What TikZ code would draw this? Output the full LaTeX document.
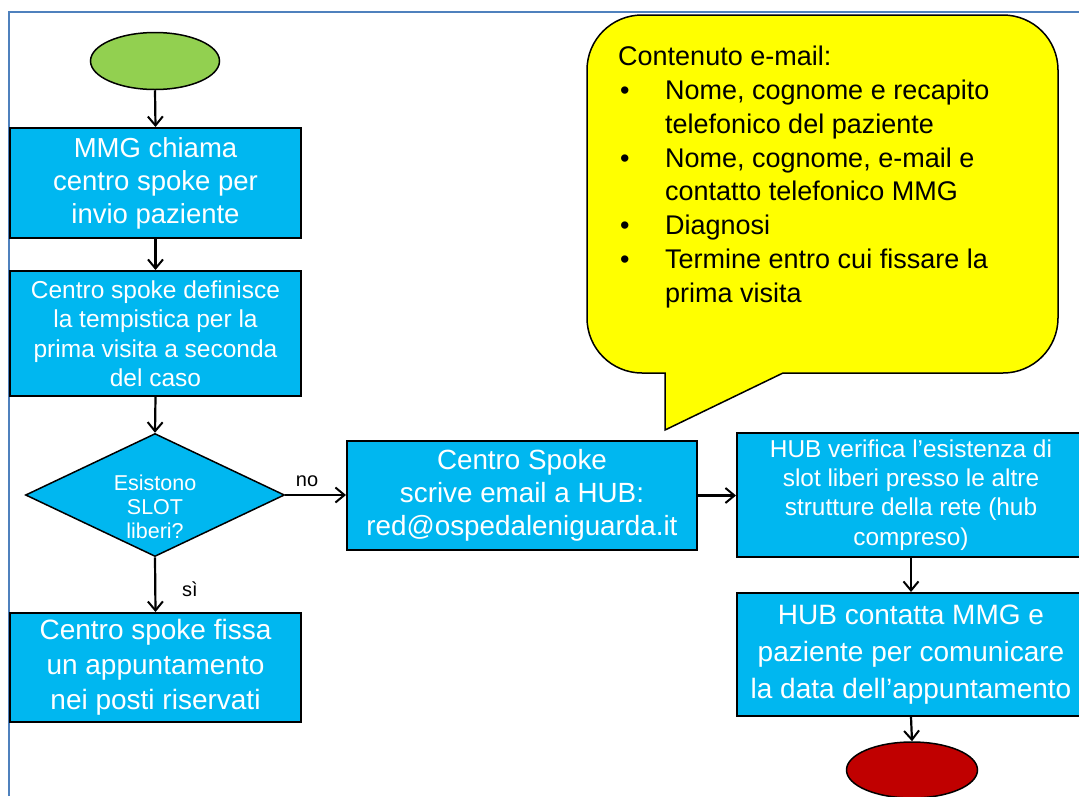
\documentclass[tikz,border=0pt]{standalone}
\usepackage{fontspec}
\setmainfont{Liberation Sans}
\usetikzlibrary{shapes.geometric,arrows.meta}
\definecolor{boxblue}{RGB}{0,183,240}
\definecolor{startgreen}{RGB}{146,208,80}
\definecolor{endred}{RGB}{192,0,0}
\definecolor{framecol}{RGB}{79,129,189}
\definecolor{calloutyellow}{RGB}{255,255,0}
\begin{document}
\begin{tikzpicture}[x=1pt,y=-1pt,
  box/.style={draw=black, line width=2pt, fill=boxblue, text=white, align=center, inner sep=0pt},
  dia/.style={draw=black, line width=1.5pt, fill=boxblue, diamond, inner sep=0pt, minimum width=259pt, minimum height=123pt},
  term/.style={draw=black, line width=1.5pt, ellipse, inner sep=0pt},
  arr/.style={draw=black, line width=2.2pt, -{Straight Barb[length=9pt,width=15pt,line width=2pt]}},
  lbl/.style={text=black, inner sep=0pt, font=\fontsize{20}{24}\selectfont},
  wtext/.style={text=white, align=center, inner sep=0pt}]
\useasboundingbox (0,0) rectangle (1079,796);
\fill[white] (0,0) rectangle (1079,796);
% frame
\draw[framecol, line width=2pt] (9,796) -- (9,12) -- (1079,12);

% callout
\draw[black, line width=1.5pt, fill=calloutyellow]
  (783,373) -- (1003,373) .. controls (1033.4,373) and (1058,348.4) .. (1058,318)
  -- (1058,70) .. controls (1058,39.6) and (1033.4,15) .. (1003,15)
  -- (642,15) .. controls (611.6,15) and (587,39.6) .. (587,70)
  -- (587,318) .. controls (587,348.4) and (611.6,373) .. (642,373)
  -- (665,373) -- (665,430) -- cycle;
\node[anchor=north west, inner sep=0pt, align=left, text=black,
  font=\fontsize{27}{33.8}\selectfont] (ct) at (618,46)
  {Contenuto e-mail:\\
   \makebox[47pt][l]{\hspace{2pt}•}Nome, cognome e recapito\\
   \hspace*{47pt}telefonico del paziente\\
   \makebox[47pt][l]{\hspace{2pt}•}Nome, cognome, e-mail e\\
   \hspace*{47pt}contatto telefonico MMG\\
   \makebox[47pt][l]{\hspace{2pt}•}Diagnosi\\
   \makebox[47pt][l]{\hspace{2pt}•}Termine entro cui fissare la\\
   \hspace*{47pt}prima visita};

% nodes
\node[term, fill=startgreen, minimum width=129pt, minimum height=57pt] (s) at (155,61) {};
\node[box, minimum width=291pt, minimum height=110pt, font=\fontsize{27.5}{33}\selectfont] (b1) at (155.5,183)
  {MMG chiama\\centro spoke per\\invio paziente};
\node[box, minimum width=291pt, minimum height=125pt, font=\fontsize{24.5}{29.5}\selectfont] (b2) at (155.5,333.5)
  {Centro spoke definisce\\la tempistica per la\\prima visita a seconda\\del caso};
\node[dia] (d) at (155,495) {};
\node[wtext, font=\fontsize{21.5}{24}\selectfont] (dt) at (155,507) {Esistono\\SLOT\\liberi?};
\node[box, minimum width=291pt, minimum height=109pt, font=\fontsize{28}{35}\selectfont] (b4) at (155.5,667.5)
  {Centro spoke fissa\\un appuntamento\\nei posti riservati};
\node[box, minimum width=350pt, minimum height=109pt, font=\fontsize{27.8}{33}\selectfont] (b3) at (522,495.5)
  {Centro Spoke\\scrive email a HUB:\\red@ospedaleniguarda.it};
\node[box, minimum width=348pt, minimum height=124pt, font=\fontsize{24.4}{29.3}\selectfont] (h1) at (911,495)
  {HUB verifica l’esistenza di\\slot liberi presso le altre\\strutture della rete (hub\\compreso)};
\node[box, minimum width=348pt, minimum height=123pt, font=\fontsize{28}{37}\selectfont] (h2) at (911,654.5)
  {HUB contatta MMG e\\paziente per comunicare\\la data dell’appuntamento};
\node[term, fill=endred, minimum width=131pt, minimum height=56pt] (e) at (912,770) {};

% connectors
\draw[arr] (s.south) -- (b1.north);
\draw[arr] (b1.south) -- (b2.north);
\draw[arr] (b2.south) -- (d.north);
\draw[arr] (d.south) -- (b4.north);
\draw[arr] (d.east) -- (d.east -| b3.west);
\draw[arr] (b3.east) -- (b3.east -| h1.west);
\draw[arr] (h1.south) -- (h2.north);
\draw[arr] (h2.south) -- (e.north);

% labels
\node[lbl] (no) at (307,481) {no};
\node[lbl] (si) at (190,589) {sì};
\end{tikzpicture}
\end{document}
